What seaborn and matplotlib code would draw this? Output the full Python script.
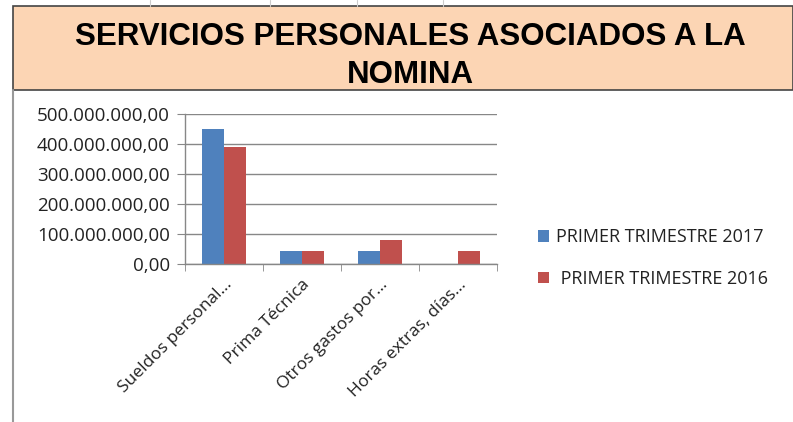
import pandas as pd
import numpy as np
import matplotlib
matplotlib.use("Agg")
import matplotlib.pyplot as plt
import matplotlib.ticker as mticker
from matplotlib.patches import Rectangle, Patch
from matplotlib.lines import Line2D
import seaborn as sns

TITLE = "SERVICIOS PERSONALES ASOCIADOS A LA\nNOMINA"
CATEGORIES = ["Sueldos personal...", "Prima Técnica", "Otros gastos por...", "Horas extras, días..."]
SERIES = ["PRIMER TRIMESTRE 2017", "PRIMER TRIMESTRE 2016"]
VALUES_2017 = [449_000_000, 43_000_000, 43_000_000, 0]
VALUES_2016 = [389_000_000, 43_000_000, 81_000_000, 43_000_000]
COLORS = ["#4F81BD", "#C0504D"]
Y_TICKS = [0, 100_000_000, 200_000_000, 300_000_000, 400_000_000, 500_000_000]


def fmt_es(v, pos=None):
    s = f"{v:,.2f}"
    return s.replace(",", "X").replace(".", ",").replace("X", ".")


df = pd.DataFrame({
    "categoria": CATEGORIES * 2,
    "serie": [SERIES[0]] * len(CATEGORIES) + [SERIES[1]] * len(CATEGORIES),
    "valor": VALUES_2017 + VALUES_2016,
})

sns.set_style("white")
plt.rcParams["font.family"] = ["Open Sans", "DejaVu Sans"]

W, H = 793, 422
fig = plt.figure(figsize=(W / 100, H / 100), dpi=100)
fig.patch.set_facecolor("white")

# title box (spreadsheet cell)
fig.patches.append(Rectangle((13 / W, 1 - 90 / H), 1 - 13 / W, 84 / H,
                             transform=fig.transFigure, facecolor="#FCD5B4",
                             edgecolor="#444444", linewidth=1.2, zorder=0))
fig.text(0.517, 1 - 56 / H, TITLE, ha="center", va="center", fontsize=22.5,
         fontweight="bold", family="Liberation Sans", linespacing=1.33, color="black")

# spreadsheet grid remnants
fig.lines.append(Line2D([13 / W, 13 / W], [0, 1 - 90 / H], transform=fig.transFigure,
                        color="#999999", linewidth=1.5))
for x in [150, 270, 357, 443]:
    fig.lines.append(Line2D([x / W, x / W], [1 - 6 / H, 1], transform=fig.transFigure,
                            color="#cccccc", linewidth=0.8))

ax = fig.add_axes([185 / W, 1 - 264 / H, (497 - 185) / W, 150 / H])
sns.barplot(data=df, x="categoria", y="valor", hue="serie", palette=COLORS,
            width=0.56, gap=0, ax=ax, legend=False, saturation=1, linewidth=0)

ax.set_ylim(0, 500_000_000)
ax.set_xlim(-0.5, len(CATEGORIES) - 0.5)
ax.set_yticks(Y_TICKS)
ax.yaxis.set_major_formatter(mticker.FuncFormatter(fmt_es))
ax.yaxis.grid(True, color="#878787", linewidth=1)
ax.set_axisbelow(True)
ax.set_xlabel("")
ax.set_ylabel("")

for side in ["top", "right"]:
    ax.spines[side].set_visible(False)
for side in ["left", "bottom"]:
    ax.spines[side].set_color("#878787")
    ax.spines[side].set_linewidth(1)

ax.tick_params(axis="y", left=True, length=6, color="#878787", labelsize=13.5,
               labelcolor="#222222", pad=5)
ax.set_xticks(range(len(CATEGORIES)))
ax.set_xticklabels(CATEGORIES, rotation=45, ha="right", rotation_mode="anchor",
                   fontsize=12.5, color="#222222")
ax.tick_params(axis="x", which="major", length=0, pad=9)
ax.set_xticks(np.arange(-0.5, len(CATEGORIES)), minor=True)
ax.tick_params(axis="x", which="minor", bottom=True, length=5, color="#878787")

handles = [Patch(facecolor=c, edgecolor="none") for c in COLORS]
labels = [SERIES[0], " " + SERIES[1]]
fig.legend(handles, labels, loc="center left", bbox_to_anchor=(522 / W, 1 - 258 / H),
           frameon=False, fontsize=13, handlelength=0.6, handleheight=0.6,
           handletextpad=0.4, labelspacing=1.3, labelcolor="#222222")

fig.savefig("out.png", dpi=100)
